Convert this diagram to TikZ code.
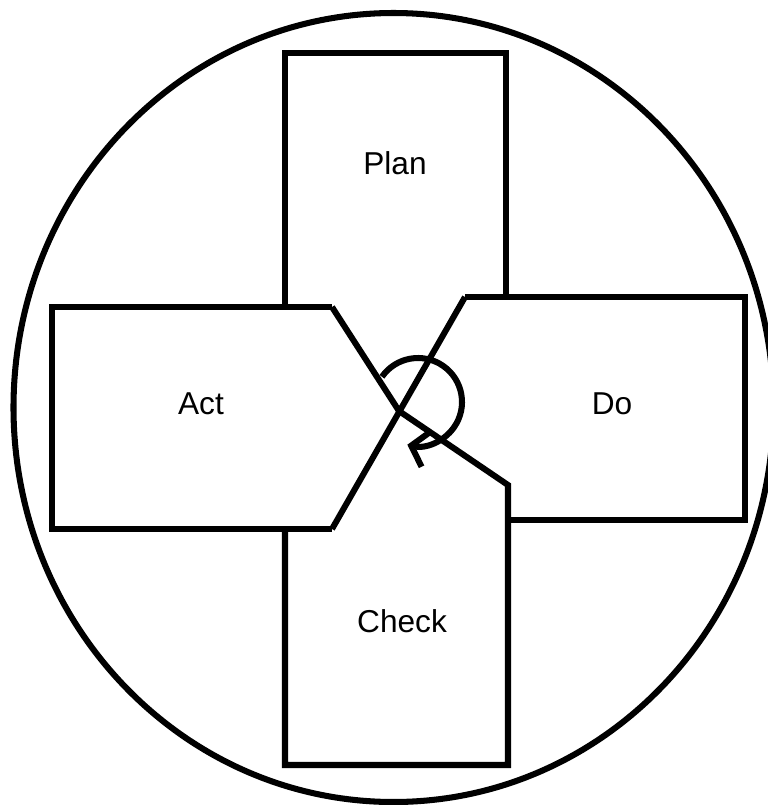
\documentclass[tikz,border=0pt]{standalone}
\usepackage{fontspec}
\setmainfont{Liberation Sans}
\usetikzlibrary{arrows.meta}

\begin{document}
\begin{tikzpicture}[x=0.025cm,y=-0.025cm,line join=miter,
    outline/.style={draw=black,line width=4.3pt},
    label/.style={font=\fontsize{22.5}{26}\selectfont}]
    \useasboundingbox (0,0) rectangle (768,805);
    % outer ring
    \draw[outline] (393.5,407.5) ellipse[x radius=380,y radius=394.5];
    % corners of the four pieces
    \coordinate (mid) at (399,411);
    \coordinate (actT) at (332,307);
    \coordinate (actB) at (332,529);
    \coordinate (doT) at (465,297);
    \coordinate (doB) at (508,485);
    % plan
    \draw[outline] (285,307) -- (285,53) -- (506,53) -- (506,297);
    % act
    \draw[outline] (actT) -- (52,307) -- (52,529) -- (actB);
    \draw[outline] (actT) -- (mid);
    \draw[outline] (doT) -- (actB);
    % do
    \draw[outline] (doT) -- (745,297) -- (745,520) -- (508,520);
    % check
    \draw[outline] (mid) -- (doB) -- (508,765) -- (285,765) -- (285,529);
    % turning arrow
    \draw[outline,-{Straight Barb[length=0.38cm,width=0.9cm]}]
      (418,402) ++(-145:44) arc[start angle=-145,end angle=104,radius=44];
    \node[label] (plan) at (395,163) {Plan};
    \node[label] (act) at (201,404) {Act};
    \node[label] (do) at (612,404) {Do};
    \node[label] (check) at (402,621) {Check};
\end{tikzpicture}
\end{document}
